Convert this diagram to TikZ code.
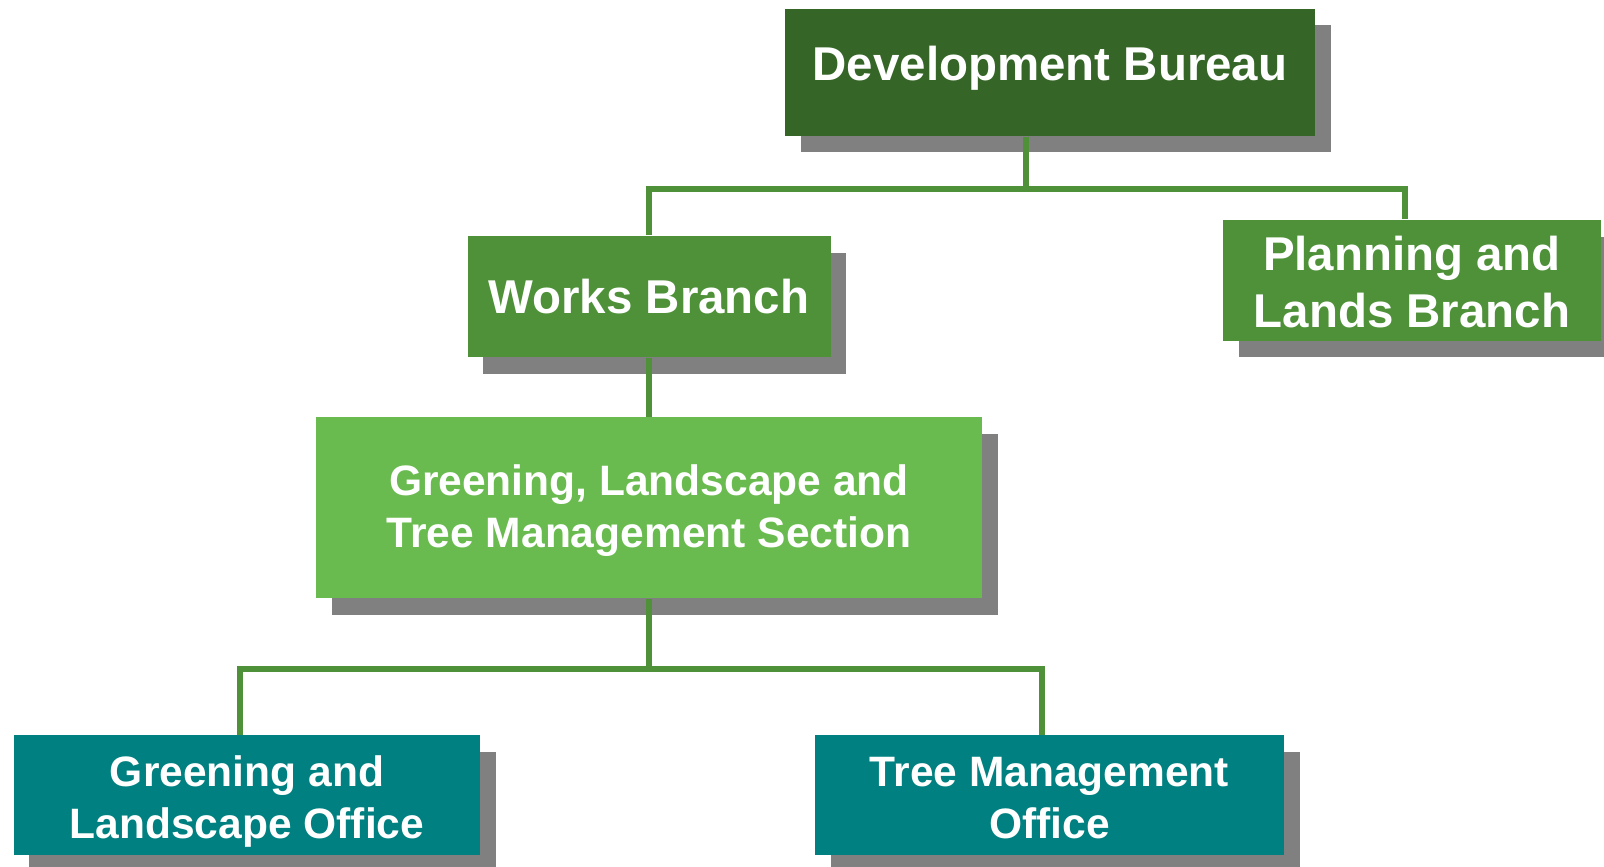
\documentclass[tikz,border=0pt]{standalone}
\usepackage{fontspec}
\setmainfont{Liberation Sans}
\usetikzlibrary{shadows}
\definecolor{dbgreen}{RGB}{54,102,39}
\definecolor{brgreen}{RGB}{78,145,56}
\definecolor{secgreen}{RGB}{106,187,79}
\definecolor{officeteal}{RGB}{0,128,128}
\definecolor{linegreen}{RGB}{78,145,56}
\definecolor{shadowgray}{RGB}{128,128,128}
\begin{document}
\begin{tikzpicture}[
  box/.style={rectangle, fill=#1, text=white, align=center, inner sep=0pt,
    drop shadow={shadow xshift=0.155cm, shadow yshift=-0.165cm, fill=shadowgray, opacity=1}},
  big/.style={font=\fontsize{13.5}{16.2}\selectfont\bfseries},
  small/.style={font=\fontsize{12.1}{14.8}\selectfont\bfseries},
  link/.style={draw=linegreen, line width=1.85pt}
]
  \useasboundingbox (0,0) rectangle (16.04,8.67);
  \path (10.50,7.945) node[box=dbgreen, big, minimum width=5.30cm, minimum height=1.27cm, text depth=0.18cm] (db) {Development Bureau};
  \path (6.49,5.703) node[box=brgreen, big, minimum width=3.63cm, minimum height=1.21cm] (wb) {Works Branch};
  \path (14.12,5.866) node[box=brgreen, big, minimum width=3.775cm, minimum height=1.207cm] (pl) {\rule{0pt}{0.38cm}Planning and\\Lands Branch};
  \path (6.49,3.59) node[box=secgreen, small, minimum width=6.66cm, minimum height=1.81cm] (sec) {\rule{0pt}{0.37cm}Greening, Landscape and\\Tree Management Section};
  \path (2.47,0.72) node[box=officeteal, small, minimum width=4.66cm, minimum height=1.195cm] (glo) {\rule{0pt}{0.43cm}Greening and\\Landscape Office};
  \path (10.495,0.72) node[box=officeteal, small, minimum width=4.69cm, minimum height=1.195cm] (tmo) {\rule{0pt}{0.35cm}Tree Management\\Office};
  \coordinate (top) at (10.26,6.78);
  \coordinate (low) at (6.49,1.98);
  \draw[link] (db.south -| top) -- (top);
  \draw[link] (top) -| (wb.north);
  \draw[link] (top) -| ([xshift=-0.07cm]pl.north);
  \draw[link] (wb) -- (sec);
  \draw[link] (sec.south) -- (low);
  \draw[link] (low) -| ([xshift=-0.07cm]glo.north);
  \draw[link] (low) -| ([xshift=-0.075cm]tmo.north);
\end{tikzpicture}
\end{document}
